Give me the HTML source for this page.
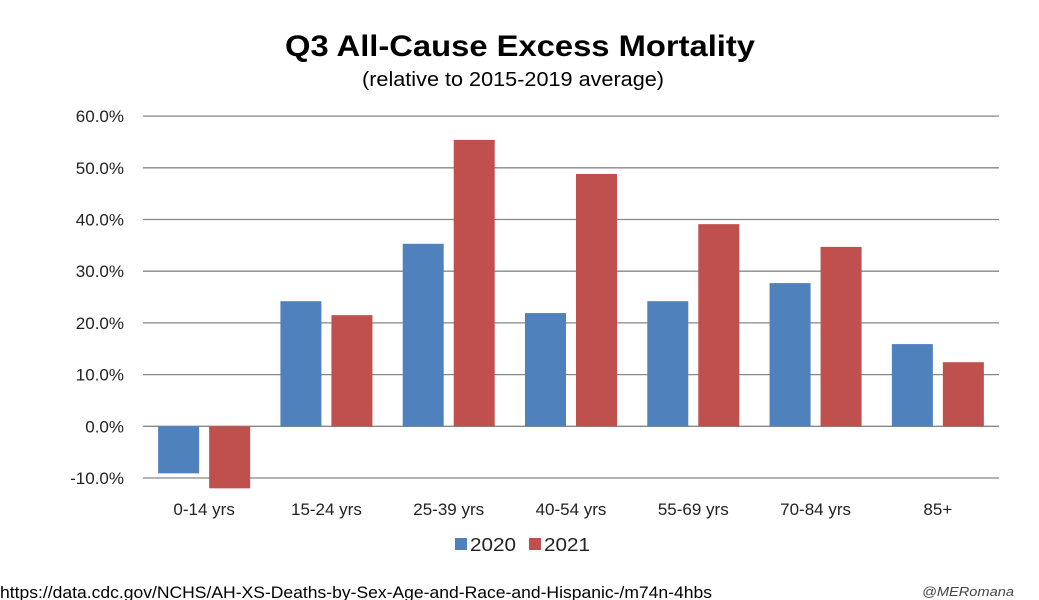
<!DOCTYPE html>
<html><head><meta charset="utf-8"><style>
html,body{margin:0;padding:0;background:#fff;}
svg{display:block;font-family:"Liberation Sans",sans-serif;}
</style></head><body>
<svg id="chart" width="1039" height="600" viewBox="0 0 1039 600" xmlns="http://www.w3.org/2000/svg">
<text x="520" y="56" text-anchor="middle" font-size="30" font-weight="bold" fill="#000" textLength="470" lengthAdjust="spacingAndGlyphs">Q3 All-Cause Excess Mortality</text>
<text x="513" y="86" text-anchor="middle" font-size="20" fill="#000" textLength="302" lengthAdjust="spacingAndGlyphs">(relative to 2015-2019 average)</text>
<g id="grid"></g>
<g id="ylabels"></g>
<g id="bars"></g>
<g id="xlabels"></g>
<g>
<rect x="455" y="538" width="12" height="12" fill="#4F81BD"/>
<text x="470" y="551" font-size="18" fill="#222" textLength="46" lengthAdjust="spacingAndGlyphs">2020</text>
<rect x="529" y="538" width="12" height="12" fill="#C0504D"/>
<text x="544" y="551" font-size="18" fill="#222" textLength="46" lengthAdjust="spacingAndGlyphs">2021</text>
</g>
<text x="0" y="598" font-size="17" fill="#000" textLength="712" lengthAdjust="spacingAndGlyphs">https://data.cdc.gov/NCHS/AH-XS-Deaths-by-Sex-Age-and-Race-and-Hispanic-/m74n-4hbs</text>
<text x="922" y="596" font-size="13" font-style="italic" fill="#444" textLength="92" lengthAdjust="spacingAndGlyphs">@MERomana</text>
</svg>
<script>
const categories = ["0-14 yrs","15-24 yrs","25-39 yrs","40-54 yrs","55-69 yrs","70-84 yrs","85+"];
const values2020 = [-9.1, 24.2, 35.3, 21.9, 24.2, 27.7, 15.9];
const values2021 = [-12.0, 21.5, 55.4, 48.8, 39.1, 34.7, 12.4];
const yTicks = [60, 50, 40, 30, 20, 10, 0, -10];
const yTickLabels = ["60.0%","50.0%","40.0%","30.0%","20.0%","10.0%","0.0%","-10.0%"];

const NS = "http://www.w3.org/2000/svg";
const x0 = 143, x1 = 999, yZero = 426.3, pxPer = 5.17;
const bandW = (x1 - x0) / categories.length;
const barW = 41, gap = 10;
function yScale(v){ return yZero - v * pxPer; }
function bandCenter(i){ return x0 + bandW * (i + 0.5); }
function mk(tag, attrs){ const e = document.createElementNS(NS, tag); for (const k in attrs) e.setAttribute(k, attrs[k]); return e; }

const grid = document.getElementById('grid');
const yl = document.getElementById('ylabels');
yTicks.forEach((t, i) => {
  const y = yScale(t);
  const ln = mk('line', {x1: x0, x2: x1, y1: y, y2: y, stroke: '#878787', 'stroke-width': 1.3});
  
  
  grid.appendChild(ln);
  const tx = mk('text', {x: 124, y: y + 6, 'text-anchor': 'end', 'font-size': 17, fill: '#222'});
  
  
  tx.textContent = yTickLabels[i];
  yl.appendChild(tx);
});

const bars = document.getElementById('bars');
const xl = document.getElementById('xlabels');
categories.forEach((c, i) => {
  const cx = bandCenter(i);
  [[values2020[i], '#4F81BD', cx - gap/2 - barW, 'bar-2020'], [values2021[i], '#C0504D', cx + gap/2, 'bar-2021']].forEach(([v, col, bx, nm]) => {
    const y = Math.min(yScale(v), yZero), h = Math.abs(yScale(v) - yZero);
    const r = mk('rect', {x: bx, y: y, width: barW, height: h, fill: col});
    
    
    bars.appendChild(r);
  });
  const tx = mk('text', {x: cx, y: 515, 'text-anchor': 'middle', 'font-size': 17, fill: '#222'});
  
  
  tx.textContent = c;
  xl.appendChild(tx);
});
</script>
</body></html>
